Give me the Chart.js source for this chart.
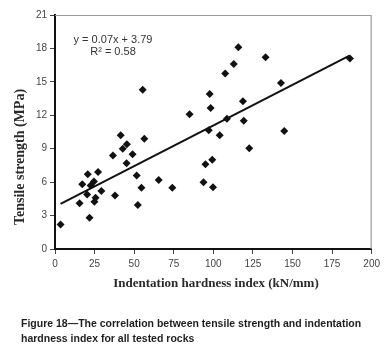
<!DOCTYPE html>
<html>
<head>
<meta charset="utf-8">
<script src="https://cdn.jsdelivr.net/npm/chart.js@4.4.1/dist/chart.umd.min.js"></script>
<style>
  html, body { margin: 0; padding: 0; background: #ffffff; }
  #wrap { position: relative; width: 384px; height: 350px; }
  #c { position: absolute; left: 0; top: 0; }
  #caption { position: absolute; left: 21px; top: 316px; width: 362px;
    font-family: "Liberation Sans", Arial, sans-serif; font-size: 10.5px; font-weight: bold; line-height: 15px;
    color: #1e1e1e; white-space: nowrap; }
</style>
</head>
<body>
<div id="wrap">
  <canvas id="c" width="384" height="350"></canvas>
  <div id="caption">Figure 18—The correlation between tensile strength and indentation<br>hardness index for all tested rocks</div>
</div>
<script>
// Indentation hardness index (kN/mm)
const hardnessIndex = [3.5, 15.5, 17.2, 20.7, 20.3, 21.8, 22.5, 24.6, 24.9, 25.6, 27.2, 29.3,
  36.6, 37.9, 41.5, 42.8, 45.4, 45.2, 49, 51.6, 52.3, 54.6, 56.4, 55.4, 65.5, 74.1,
  85, 93.8, 95, 97.1, 97.7, 98.3, 99.3, 99.8, 104, 107.5, 108.6, 112.9, 115.8,
  118.7, 119.2, 122.7, 133, 142.7, 144.8, 186.3];
// Tensile strength (MPa)
const tensileStrength = [2.2, 4.1, 5.8, 6.7, 4.9, 2.8, 5.7, 6.05, 4.25, 4.6, 6.9, 5.2,
  8.4, 4.8, 10.2, 9.0, 9.4, 7.7, 8.5, 6.6, 3.95, 5.5, 9.9, 14.3, 6.2, 5.5,
  12.1, 6.0, 7.6, 10.65, 13.9, 12.65, 8.0, 5.55, 10.2, 15.75, 11.7, 16.6, 18.1,
  13.25, 11.5, 9.05, 17.2, 14.9, 10.6, 17.1];
// Linear trend line end points (y = 0.07x + 3.79)
const trendX = [3.5, 186];
const trendY = [4.05, 17.35];
const xTicks = [0, 25, 50, 75, 100, 125, 150, 175, 200];
const yTicks = [0, 3, 6, 9, 12, 15, 18, 21];
const equationText = ["y = 0.07x + 3.79", "R² = 0.58"];
const xTitle = "Indentation hardness index (kN/mm)";
const yTitle = "Tensile strength (MPa)";

const points = hardnessIndex.map((x, i) => ({ x: x, y: tensileStrength[i] }));
const trend = trendX.map((x, i) => ({ x: x, y: trendY[i] }));

const decor = {
  id: 'decor',
  afterDraw(chart) {
    const ctx = chart.ctx;
    const a = chart.chartArea;
    ctx.save();
    // top/right gray frame
    ctx.strokeStyle = '#9a9a9a';
    ctx.lineWidth = 1.2;
    ctx.beginPath();
    ctx.moveTo(a.left, a.top + 0.5);
    ctx.lineTo(a.right - 0.5, a.top + 0.5);
    ctx.lineTo(a.right - 0.5, a.bottom);
    ctx.stroke();
    // equation
    ctx.fillStyle = '#333';
    ctx.font = '11px "Liberation Sans", Arial, sans-serif';
    ctx.textAlign = 'center';
    ctx.textBaseline = 'middle';
    ctx.fillText(equationText[0], 113, 40);
    ctx.fillText(equationText[1], 113, 52);
    // axis titles
    ctx.fillStyle = '#2a2a2a';
    ctx.font = 'bold 13px "Liberation Serif", "Times New Roman", serif';
    ctx.fillText(xTitle, 216, 284);
    ctx.font = 'bold 14px "Liberation Serif", "Times New Roman", serif';
    ctx.translate(20, 157);
    ctx.rotate(-Math.PI / 2);
    ctx.fillText(yTitle, 0, 0);
    ctx.restore();
  }
};

new Chart(document.getElementById('c'), {
  type: 'scatter',
  data: {
    datasets: [
      {
        data: points,
        pointStyle: 'rectRot',
        pointRadius: 4,
        backgroundColor: '#111',
        borderColor: '#111',
        borderWidth: 0,
        order: 1
      },
      {
        type: 'line',
        data: trend,
        borderColor: '#111',
        borderWidth: 2,
        pointRadius: 0,
        fill: false,
        order: 2
      }
    ]
  },
  options: {
    responsive: false,
    animation: false,
    events: [],
    layout: { padding: { left: 0, right: 10, top: 15, bottom: 0 } },
    plugins: { legend: { display: false }, tooltip: { enabled: false } },
    scales: {
      x: {
        type: 'linear',
        min: 0, max: 200,
        afterBuildTicks: s => { s.ticks = xTicks.map(v => ({ value: v })); },
        afterFit: s => { s.height = 101; },
        border: { display: true, color: '#111', width: 2 },
        grid: { display: true, drawOnChartArea: false, drawTicks: true, tickLength: 5, color: '#444' },
        ticks: { padding: 4, color: '#444', font: { family: '"Liberation Sans", Arial, sans-serif', size: 10 }, maxRotation: 0 }
      },
      y: {
        type: 'linear',
        min: 0, max: 21,
        afterBuildTicks: s => { s.ticks = yTicks.map(v => ({ value: v })); },
        afterFit: s => { s.width = 55; },
        border: { display: true, color: '#111', width: 2 },
        grid: { display: true, drawOnChartArea: false, drawTicks: true, tickLength: 5, color: '#444' },
        ticks: { padding: 3, color: '#444', font: { family: '"Liberation Sans", Arial, sans-serif', size: 10 } }
      }
    }
  },
  plugins: [decor]
});
</script>
</body>
</html>
